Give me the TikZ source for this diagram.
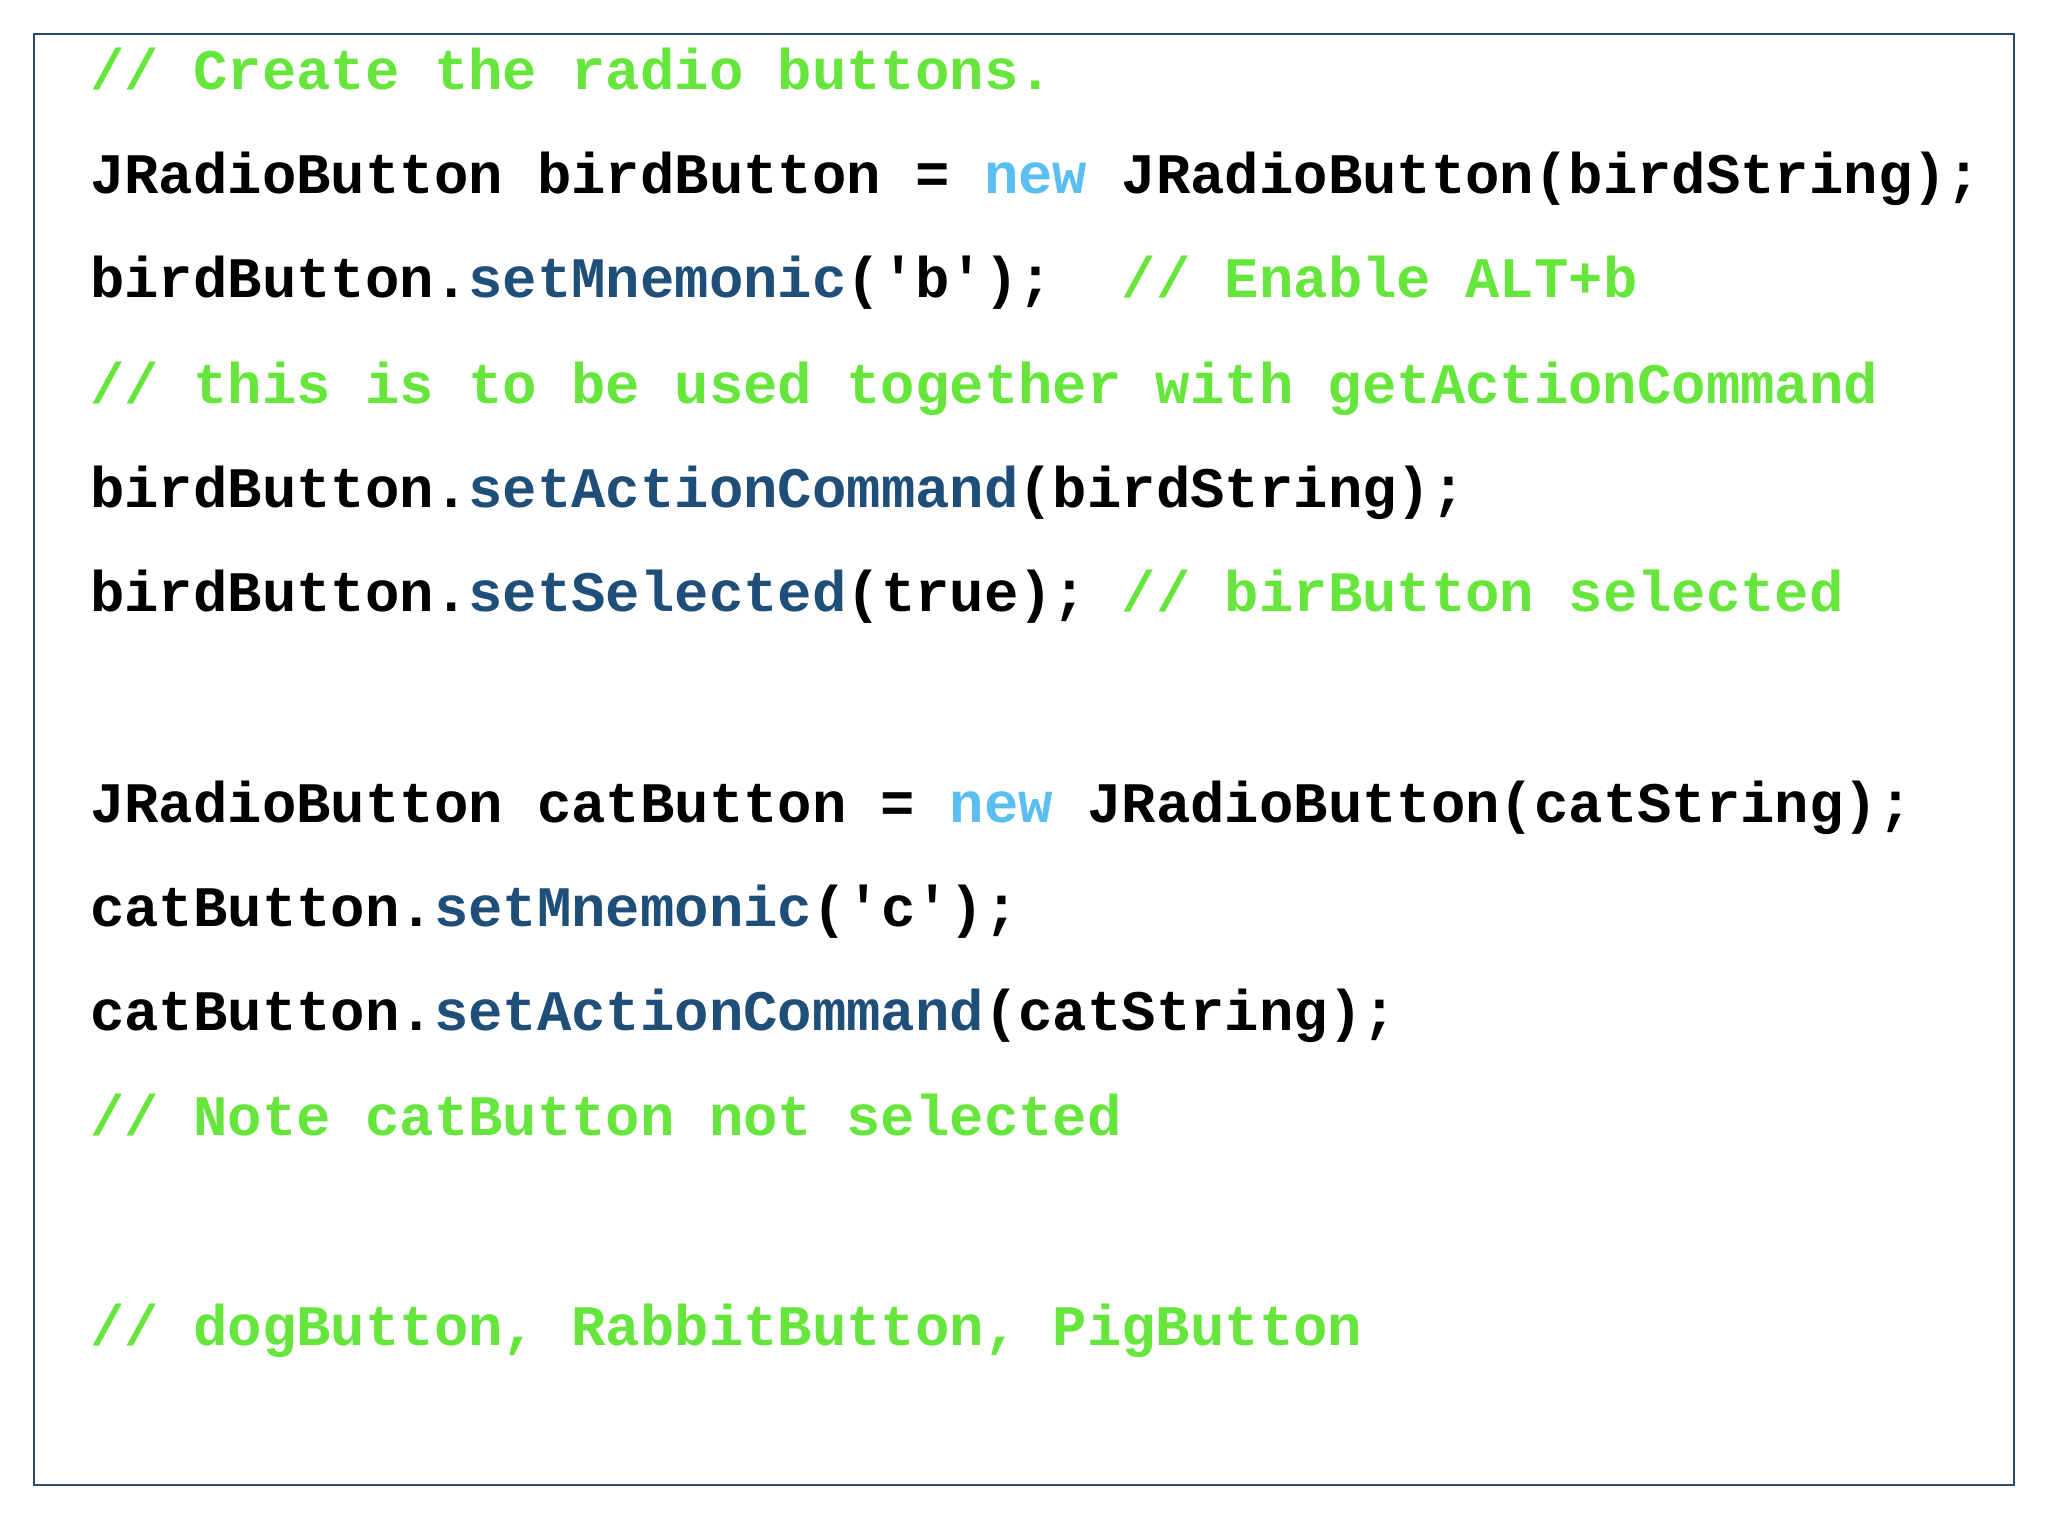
\documentclass[tikz,border=0pt]{standalone}
\usepackage{fontspec}
\newfontfamily\codefont{Liberation Mono Bold}
\definecolor{cgreen}{RGB}{102,230,60}
\definecolor{kwblue}{RGB}{90,190,240}
\definecolor{mtblue}{RGB}{31,78,121}
\definecolor{frame}{RGB}{40,75,115}
\newcommand{\cm}[1]{\textcolor{cgreen}{#1}}
\newcommand{\kw}[1]{\textcolor{kwblue}{#1}}
\newcommand{\mt}[1]{\textcolor{mtblue}{#1}}
\begin{document}
\begin{tikzpicture}[x=1pt,y=1pt,
  code/.style={anchor=mid west,inner sep=0pt,font=\codefont\fontsize{57.3}{60}\selectfont,text=black}]
\useasboundingbox (0,0) rectangle (2048,1536);
\fill[white] (0,0) rectangle (2048,1536);
\draw[frame,line width=2.5pt] (34,51) rectangle (2014,1502);
\node[code] (l1) at (90,1449) {\cm{// Create the radio buttons.}};
\node[code] (l2) at (90,1345) {JRadioButton birdButton = \kw{new} JRadioButton(birdString);};
\node[code] (l3) at (90,1241) {birdButton.\mt{setMnemonic}('b');\ \ \cm{// Enable ALT+b}};
\node[code] (l4) at (90,1135) {\cm{// this is to be used together with getActionCommand}};
\node[code] (l5) at (90,1031) {birdButton.\mt{setActionCommand}(birdString);};
\node[code] (l6) at (90,927) {birdButton.\mt{setSelected}(true); \cm{// birButton selected}};
\node[code] (l7) at (90,716) {JRadioButton catButton = \kw{new} JRadioButton(catString);};
\node[code] (l8) at (90,612) {catButton.\mt{setMnemonic}('c');};
\node[code] (l9) at (90,508) {catButton.\mt{setActionCommand}(catString);};
\node[code] (l10) at (90,403) {\cm{// Note catButton not selected}};
\node[code] (l11) at (90,193) {\cm{// dogButton, RabbitButton, PigButton}};
\end{tikzpicture}
\end{document}
